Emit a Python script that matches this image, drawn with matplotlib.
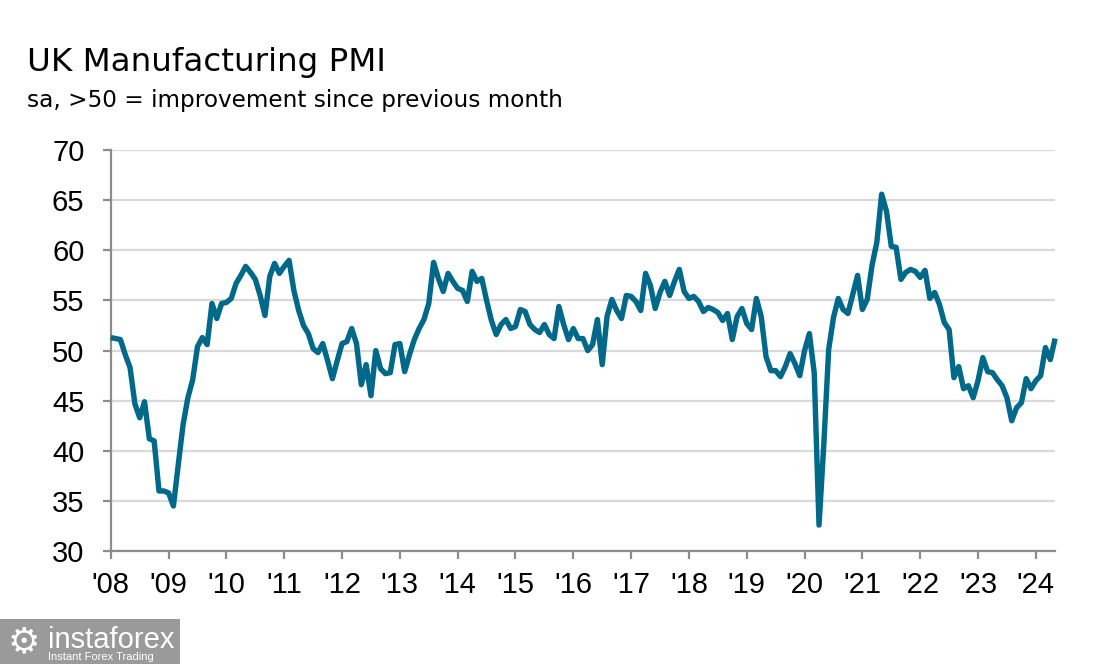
import numpy as np
import matplotlib
matplotlib.use("Agg")
import matplotlib.pyplot as plt
from matplotlib.patches import Rectangle

# UK manufacturing PMI, monthly, Jan 2008 .. May 2024
pmi_2008 = [51.3, 51.2, 51.1, 49.6, 48.3, 44.7, 43.3, 44.9, 41.2, 41.0, 36.0, 36.0]
pmi_2009 = [35.8, 34.5, 38.6, 42.6, 45.3, 47.1, 50.4, 51.3, 50.6, 54.7, 53.2, 54.7]
pmi_2010 = [54.8, 55.2, 56.7, 57.5, 58.4, 57.8, 57.1, 55.5, 53.5, 57.4, 58.7, 57.7]
pmi_2011 = [58.4, 59.0, 56.0, 54.0, 52.5, 51.7, 50.2, 49.8, 50.7, 49.0, 47.2, 49.0]
pmi_2012 = [50.7, 50.9, 52.2, 50.7, 46.6, 48.6, 45.5, 50.0, 48.2, 47.7, 47.8, 50.6]
pmi_2013 = [50.7, 47.9, 49.6, 51.1, 52.2, 53.1, 54.7, 58.8, 57.2, 55.9, 57.7, 56.9]
pmi_2014 = [56.2, 56.0, 54.9, 57.9, 56.9, 57.2, 55.0, 53.0, 51.6, 52.6, 53.1, 52.2]
pmi_2015 = [52.4, 54.1, 53.9, 52.6, 52.1, 51.8, 52.6, 51.6, 51.2, 54.4, 52.6, 51.1]
pmi_2016 = [52.2, 51.2, 51.2, 50.0, 50.6, 53.1, 48.6, 53.4, 55.1, 54.0, 53.2, 55.5]
pmi_2017 = [55.4, 54.9, 54.0, 57.7, 56.5, 54.2, 55.8, 56.9, 55.5, 56.9, 58.1, 55.9]
pmi_2018 = [55.2, 55.4, 54.9, 53.9, 54.3, 54.1, 53.8, 53.0, 53.7, 51.1, 53.4, 54.2]
pmi_2019 = [52.7, 52.1, 55.2, 53.4, 49.4, 48.0, 48.0, 47.4, 48.4, 49.7, 48.7, 47.5]
pmi_2020 = [50.0, 51.7, 47.8, 32.6, 40.7, 50.1, 53.3, 55.2, 54.1, 53.7, 55.6, 57.5]
pmi_2021 = [54.1, 55.1, 58.5, 60.8, 65.6, 63.9, 60.4, 60.3, 57.1, 57.8, 58.1, 57.9]
pmi_2022 = [57.3, 58.0, 55.2, 55.8, 54.6, 52.8, 52.1, 47.3, 48.4, 46.2, 46.5, 45.3]
pmi_2023 = [47.0, 49.3, 47.9, 47.8, 47.1, 46.5, 45.3, 43.0, 44.3, 44.8, 47.2, 46.2]
pmi_2024 = [47.0, 47.5, 50.3, 49.1, 51.2]

pmi = (pmi_2008 + pmi_2009 + pmi_2010 + pmi_2011 + pmi_2012 + pmi_2013
       + pmi_2014 + pmi_2015 + pmi_2016 + pmi_2017 + pmi_2018 + pmi_2019
       + pmi_2020 + pmi_2021 + pmi_2022 + pmi_2023 + pmi_2024)
months = np.arange(len(pmi))  # 0 = Jan 2008

years = list(range(2008, 2025))
year_labels = ["'%02d" % (y % 100) for y in years]
y_ticks = [30, 35, 40, 45, 50, 55, 60, 65, 70]

line_color = '#00698A'
axis_color = '#8c8c8c'
grid_color = '#d9d9d9'

plt.rcParams['font.family'] = ['Liberation Sans', 'DejaVu Sans']

fig = plt.figure(figsize=(11.09, 6.64), dpi=100)
ax = fig.add_axes([0.0999, 0.170, 0.8515, 0.604])

ax.plot(months, pmi, color=line_color, linewidth=3.9, solid_joinstyle='round',
        solid_capstyle='butt', zorder=3, clip_on=False)

ax.set_xlim(0, len(pmi) - 1)
ax.set_ylim(30, 70)
ax.set_yticks(y_ticks)
ax.set_xticks([12 * i for i in range(len(years))])
ax.set_xticklabels(year_labels)

ax.grid(axis='y', color=grid_color, linewidth=1.6, zorder=0)
ax.set_axisbelow(True)

for side in ['top', 'right']:
    ax.spines[side].set_visible(False)
for side in ['left', 'bottom']:
    ax.spines[side].set_color(axis_color)
    ax.spines[side].set_linewidth(1.6)

ax.tick_params(axis='both', colors=axis_color, length=6, width=1.6,
               labelsize=21, labelcolor='black')
ax.tick_params(axis='y', pad=13)
ax.tick_params(axis='x', pad=8)

# titles
fig.text(27 / 1109, 1 - 71 / 664, 'UK Manufacturing PMI', fontsize=23.4,
         family=['DejaVu Sans'], ha='left', va='baseline')
fig.text(27 / 1109, 1 - 107 / 664, 'sa, >50 = improvement since previous month',
         fontsize=16.7, family=['DejaVu Sans'], ha='left', va='baseline')

# watermark box, bottom left
fig.patches.append(Rectangle((0, 0), 180 / 1109, 45 / 664, transform=fig.transFigure,
                             facecolor='#8f8f8f', edgecolor='none', alpha=0.9))
fig.text(48 / 1109, 1 - 648 / 664, 'instaforex', fontsize=21, color='white',
         ha='left', va='baseline')
fig.text(48 / 1109, 1 - 660 / 664, 'Instant Forex Trading', fontsize=8, color='white',
         ha='left', va='baseline')
fig.text(24 / 1109, 1 - 652 / 664, '\u2699', fontsize=26, color='white',
         family=['DejaVu Sans'], ha='center', va='baseline')

fig.savefig('out.png', dpi=100)
